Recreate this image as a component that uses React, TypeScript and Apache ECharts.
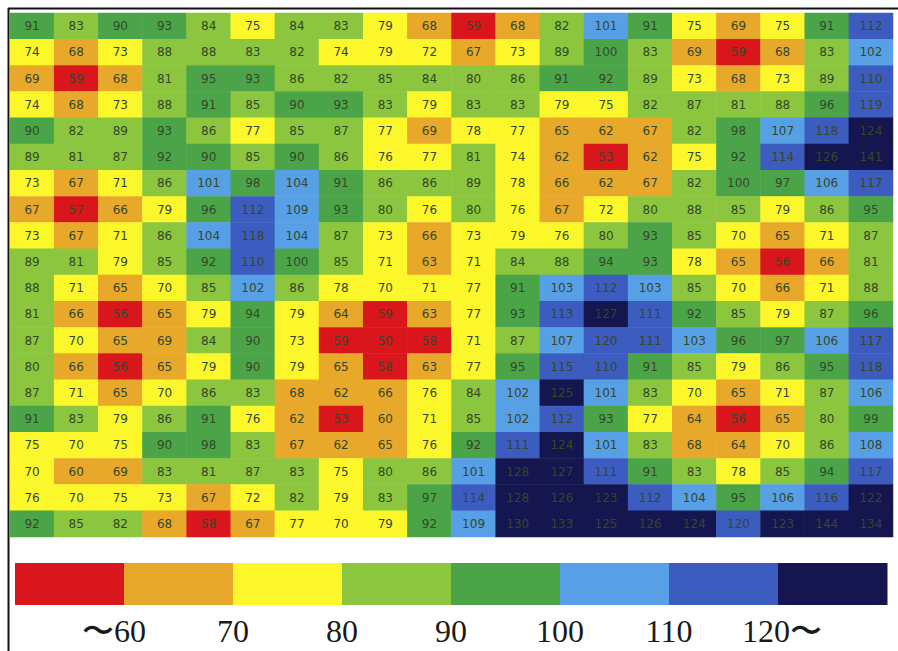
import React, { useEffect, useRef } from "react";
import * as echarts from "echarts";

// Heat-map values, row by row (top row first), 20 columns each
const gridValues: number[][] = [
  [91, 83, 90, 93, 84, 75, 84, 83, 79, 68, 59, 68, 82, 101, 91, 75, 69, 75, 91, 112],
  [74, 68, 73, 88, 88, 83, 82, 74, 79, 72, 67, 73, 89, 100, 83, 69, 59, 68, 83, 102],
  [69, 59, 68, 81, 95, 93, 86, 82, 85, 84, 80, 86, 91, 92, 89, 73, 68, 73, 89, 110],
  [74, 68, 73, 88, 91, 85, 90, 93, 83, 79, 83, 83, 79, 75, 82, 87, 81, 88, 96, 119],
  [90, 82, 89, 93, 86, 77, 85, 87, 77, 69, 78, 77, 65, 62, 67, 82, 98, 107, 118, 124],
  [89, 81, 87, 92, 90, 85, 90, 86, 76, 77, 81, 74, 62, 53, 62, 75, 92, 114, 126, 141],
  [73, 67, 71, 86, 101, 98, 104, 91, 86, 86, 89, 78, 66, 62, 67, 82, 100, 97, 106, 117],
  [67, 57, 66, 79, 96, 112, 109, 93, 80, 76, 80, 76, 67, 72, 80, 88, 85, 79, 86, 95],
  [73, 67, 71, 86, 104, 118, 104, 87, 73, 66, 73, 79, 76, 80, 93, 85, 70, 65, 71, 87],
  [89, 81, 79, 85, 92, 110, 100, 85, 71, 63, 71, 84, 88, 94, 93, 78, 65, 56, 66, 81],
  [88, 71, 65, 70, 85, 102, 86, 78, 70, 71, 77, 91, 103, 112, 103, 85, 70, 66, 71, 88],
  [81, 66, 56, 65, 79, 94, 79, 64, 59, 63, 77, 93, 113, 127, 111, 92, 85, 79, 87, 96],
  [87, 70, 65, 69, 84, 90, 73, 59, 50, 58, 71, 87, 107, 120, 111, 103, 96, 97, 106, 117],
  [80, 66, 56, 65, 79, 90, 79, 65, 58, 63, 77, 95, 115, 110, 91, 85, 79, 86, 95, 118],
  [87, 71, 65, 70, 86, 83, 68, 62, 66, 76, 84, 102, 125, 101, 83, 70, 65, 71, 87, 106],
  [91, 83, 79, 86, 91, 76, 62, 53, 60, 71, 85, 102, 112, 93, 77, 64, 56, 65, 80, 99],
  [75, 70, 75, 90, 98, 83, 67, 62, 65, 76, 92, 111, 124, 101, 83, 68, 64, 70, 86, 108],
  [70, 60, 69, 83, 81, 87, 83, 75, 80, 86, 101, 128, 127, 111, 91, 83, 78, 85, 94, 117],
  [76, 70, 75, 73, 67, 72, 82, 79, 83, 97, 114, 128, 126, 123, 112, 104, 95, 106, 116, 122],
  [92, 85, 82, 68, 58, 67, 77, 70, 79, 92, 109, 130, 133, 125, 126, 124, 120, 123, 144, 134],
];

// Colour bands (low to high)
const bandColors = ["#d9161c", "#e8a82a", "#fbf72a", "#8cc63e", "#4ba548", "#58a0e6", "#3c5cbf", "#15164f"];
const legendLabels = ["\u301c60", "70", "80", "90", "100", "110", "120\u301c"];

const rowCount = gridValues.length;
const colCount = gridValues[0].length;

export default function App() {
  const ref = useRef<HTMLDivElement>(null);
  useEffect(() => {
    document.body.style.margin = "0";
    if (!ref.current) return;
    const chart = echarts.init(ref.current, undefined, { renderer: "svg" });

    const data: [number, number, number][] = [];
    gridValues.forEach((row, r) => row.forEach((v, c) => data.push([c, r, v])));

    const legendLeft = 15;
    const legendRight = 887;
    const legendTop = 563;
    const legendH = 42;
    const bw = (legendRight - legendLeft) / bandColors.length;
    const graphics: any[] = [];
    bandColors.forEach((col, i) => {
      graphics.push({
        type: "rect",
        shape: { x: legendLeft + i * bw, y: legendTop, width: bw + 0.5, height: legendH },
        style: { fill: col },
      });
    });
    legendLabels.forEach((lab, i) => {
      const bx = legendLeft + (i + 1) * bw;
      let align = "center";
      let x = bx;
      if (i === 0) { align = "right"; x = bx + 22; }
      if (i === legendLabels.length - 1) { align = "left"; x = bx - 36; }
      graphics.push({
        type: "text",
        x,
        y: 631,
        style: {
          text: lab,
          fill: "#1a1a1a",
          font: "32px 'Liberation Serif', 'DejaVu Serif', serif",
          align,
          verticalAlign: "middle",
        },
      });
    });
    // frame lines
    graphics.push({ type: "line", shape: { x1: 8, y1: 8.5, x2: 898, y2: 8.5 }, style: { stroke: "#111", lineWidth: 2 } });
    graphics.push({ type: "line", shape: { x1: 8.5, y1: 8, x2: 8.5, y2: 651 }, style: { stroke: "#111", lineWidth: 2 } });

    chart.setOption({
      animation: false,
      backgroundColor: "#ffffff",
      grid: { left: 10, top: 13, width: 883, height: 524 },
      xAxis: {
        type: "category",
        data: Array.from({ length: colCount }, (_, i) => String(i)),
        show: false,
      },
      yAxis: {
        type: "category",
        data: Array.from({ length: rowCount }, (_, i) => String(i)),
        inverse: true,
        show: false,
      },
      visualMap: {
        type: "piecewise",
        show: false,
        dimension: 2,
        pieces: [
          { lt: 60, color: bandColors[0] },
          { gte: 60, lt: 70, color: bandColors[1] },
          { gte: 70, lt: 80, color: bandColors[2] },
          { gte: 80, lt: 90, color: bandColors[3] },
          { gte: 90, lte: 100, color: bandColors[4] },
          { gt: 100, lt: 110, color: bandColors[5] },
          { gte: 110, lte: 120, color: bandColors[6] },
          { gt: 120, color: bandColors[7] },
        ],
      },
      series: [
        {
          type: "heatmap",
          data,
          label: {
            show: true,
            color: "#34472a",
            fontSize: 12,
            fontFamily: "'DejaVu Sans', sans-serif",
          },
          itemStyle: { borderWidth: 0 },
          emphasis: { disabled: true },
        },
      ],
      graphic: graphics,
    });
    return () => chart.dispose();
  }, []);
  return <div ref={ref} style={{ width: 898, height: 651 }} />;
}
